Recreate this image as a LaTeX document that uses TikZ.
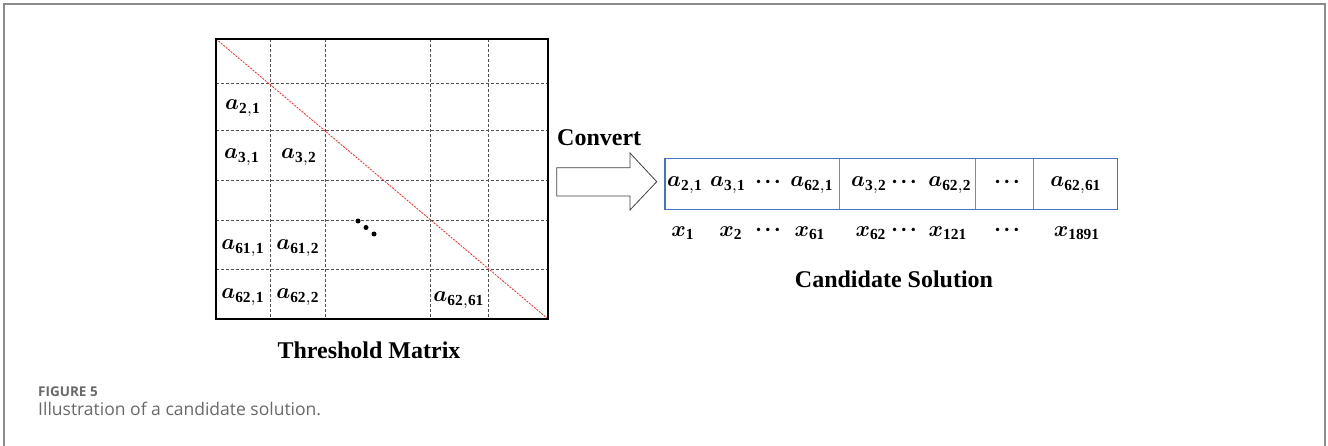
\documentclass[tikz,border=0pt]{standalone}
\usepackage{amsmath,bm}
\usepackage{graphicx}
\usepackage{fontspec}
\setmainfont{Liberation Serif}
\newfontfamily\capfont{Open Sans}
\definecolor{frameg}{RGB}{140,140,140}
\definecolor{cblue}{RGB}{68,114,196}
\definecolor{capgray}{RGB}{105,105,105}
\definecolor{gridgray}{RGB}{80,80,80}
\newcommand{\mt}[1]{\scalebox{2.2}{$#1$}}
\newcommand{\mdots}{\scalebox{2.2}{$\bm{\cdot}\mkern-2mu\bm{\cdot}\mkern-2mu\bm{\cdot}$}}
\tikzset{
  gridline/.style={gridgray, line width=1, dash pattern=on 3pt off 2pt},
  diagline/.style={red!85!white, line width=0.8, dash pattern=on 2pt off 1.2pt},
  ent/.style={inner sep=0pt},
  ttl/.style={font=\fontsize{24}{28}\selectfont\bfseries, inner sep=0pt},
  capt/.style={font=\capfont\fontsize{17.5}{20}\selectfont, text=capgray, inner sep=0pt},
  figlbl/.style={font=\capfont\bfseries\fontsize{13.5}{16}\selectfont, text=capgray, inner sep=0pt},
  bigarrow/.style={draw=black!75, line width=0.8, fill=white},
  cand/.style={draw=cblue, line width=1.4},
  canddiv/.style={draw=cblue!80, line width=0.8}
}
\begin{document}
\begin{tikzpicture}[x=1pt,y=-1pt]
\useasboundingbox (0,0) rectangle (1328,446);
% outer frame
\draw[frameg, line width=2] (4,446) -- (4,4) -- (1325,4) -- (1325,446);

% ---------- threshold matrix ----------
\foreach \x in {270.7,325.7,430,488.7} \draw[gridline] (\x,39) -- (\x,319);
\foreach \y in {84,130.7,180.3,221,269.3} \draw[gridline] (216,\y) -- (548,\y);
\draw[diagline] (216,39) -- (548,319);
\draw[line width=1.8] (216,39) rectangle (548,319);

\node[ent] (a21) at (243,108) {\mt{\bm{a}_{\mathbf{2,1}}}};
\node[ent] (a31) at (242,157) {\mt{\bm{a}_{\mathbf{3,1}}}};
\node[ent] (a32) at (299,157) {\mt{\bm{a}_{\mathbf{3,2}}}};
\node[ent] (a611) at (243,248) {\mt{\bm{a}_{\mathbf{61,1}}}};
\node[ent] (a612) at (298,248) {\mt{\bm{a}_{\mathbf{61,2}}}};
\node[ent] (a621) at (243,297) {\mt{\bm{a}_{\mathbf{62,1}}}};
\node[ent] (a622) at (298,297) {\mt{\bm{a}_{\mathbf{62,2}}}};
\node[ent] (a6261) at (459,300) {\mt{\bm{a}_{\mathbf{62,61}}}};
\fill (358,221) circle (2.5) (366,227.5) circle (2.5) (374,234) circle (2.5);

\node[ttl, anchor=base] (tm) at (369,358) {Threshold Matrix};

% ---------- arrow ----------
\draw[bigarrow] (556.7,167.7) -- (630,167.7) -- (630,153) -- (656.7,181.7)
  -- (630,210) -- (630,196) -- (556.7,196) -- cycle;
\node[ttl, anchor=base west] (conv) at (557,146) {Convert};

% ---------- candidate solution ----------
\draw[canddiv] (839,158) -- (839,209);
\draw[canddiv] (975.7,158) -- (975.7,209);
\draw[canddiv] (1033.3,158) -- (1033.3,209);
\node[cand, minimum width=452.7pt, minimum height=51.3pt, anchor=north west, inner sep=0pt] (cbox) at (664.3,157.7) {};

\node[ent] (c1) at (685,185) {\mt{\bm{a}_{\mathbf{2,1}}}};
\node[ent] (c2) at (728,185) {\mt{\bm{a}_{\mathbf{3,1}}}};
\node[ent] (c3) at (768,182) {\mdots};
\node[ent] (c4) at (812,185) {\mt{\bm{a}_{\mathbf{62,1}}}};
\node[ent] (c5) at (869,185) {\mt{\bm{a}_{\mathbf{3,2}}}};
\node[ent] (c6) at (904,182) {\mdots};
\node[ent] (c7) at (950,185) {\mt{\bm{a}_{\mathbf{62,2}}}};
\node[ent] (c8) at (1007,182) {\mdots};
\node[ent] (c9) at (1076,185) {\mt{\bm{a}_{\mathbf{62,61}}}};

\node[ent] (x1) at (683,233) {\mt{\bm{x}_{\mathbf{1}}}};
\node[ent] (x2) at (731,233) {\mt{\bm{x}_{\mathbf{2}}}};
\node[ent] (x3) at (768,230) {\mdots};
\node[ent] (x4) at (810,233) {\mt{\bm{x}_{\mathbf{61}}}};
\node[ent] (x5) at (871,233) {\mt{\bm{x}_{\mathbf{62}}}};
\node[ent] (x6) at (904,230) {\mdots};
\node[ent] (x7) at (948,233) {\mt{\bm{x}_{\mathbf{121}}}};
\node[ent] (x8) at (1007,230) {\mdots};
\node[ent] (x9) at (1077,233) {\mt{\bm{x}_{\mathbf{1891}}}};

\node[ttl, anchor=base] (cs) at (894,288) {Candidate Solution};

% ---------- caption ----------
\node[figlbl, anchor=base west] (fig) at (38,396.5) {FIGURE 5};
\node[capt, anchor=base west] (cap) at (38,415) {Illustration of a candidate solution.};
\end{tikzpicture}
\end{document}
